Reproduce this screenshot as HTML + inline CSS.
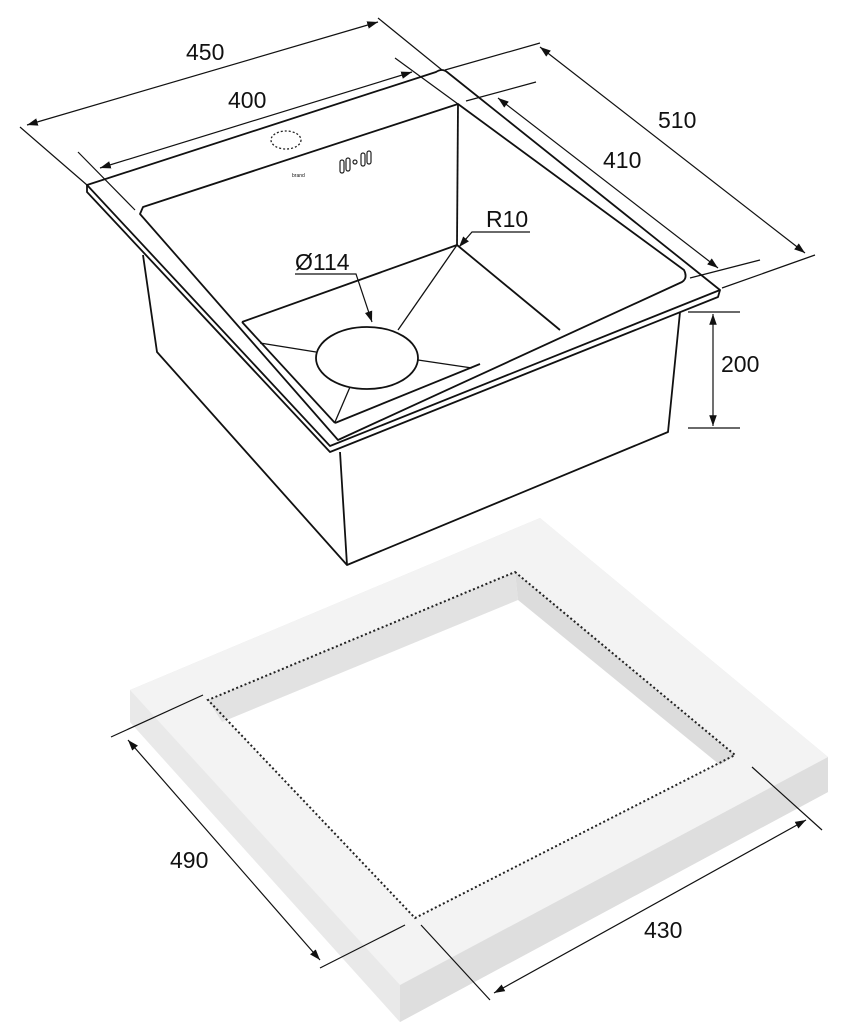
<!DOCTYPE html>
<html><head><meta charset="utf-8"><style>
html,body{margin:0;padding:0;background:#fff;}
svg{display:block;}
text{font-family:"Liberation Sans",sans-serif;font-size:23px;fill:#111;}
</style></head><body>
<svg width="843" height="1027" viewBox="0 0 843 1027" xmlns="http://www.w3.org/2000/svg">
<defs>
<marker id="a" viewBox="0 0 10 10" refX="10" refY="5" markerWidth="9" markerHeight="9" orient="auto-start-reverse"><path d="M0,1.5 L10,5 L0,8.5 Z" fill="#111"/></marker>
</defs>
<!-- countertop -->
<polygon points="540,518 828,757 828,792 400,1022 130,722 130,690" fill="#e4e4e4"/>
<polygon points="130,690 400,985 400,1022 130,722" fill="#e9e9e9"/>
<polygon points="400,985 828,757 828,792 400,1022" fill="#dedede"/>
<polygon points="540,518 828,757 400,985 130,690" fill="#f3f3f3"/>
<polygon points="515,572 735,755 415,918 208,700" fill="#ffffff"/>
<polygon points="208,700 515,572 518,600 222,722" fill="#e2e2e2"/>
<polygon points="515,572 735,755 720,765 518,600" fill="#dcdcdc"/>
<polygon points="515,572 735,755 415,918 208,700" fill="none" stroke="#222" stroke-width="2" stroke-dasharray="2,2.5"/>
<!-- 490 / 430 dims -->
<g stroke="#111" stroke-width="1.2" fill="none">
<line x1="111" y1="737" x2="203" y2="695"/>
<line x1="320" y1="968" x2="405" y2="925"/>
<line x1="128" y1="740" x2="320" y2="960" marker-start="url(#a)" marker-end="url(#a)"/>
<line x1="752" y1="767" x2="822" y2="830"/>
<line x1="421" y1="925" x2="490" y2="1000"/>
<line x1="806" y1="820" x2="494" y2="993" marker-start="url(#a)" marker-end="url(#a)"/>
</g>
<text x="170" y="868">490</text>
<text x="644" y="938">430</text>
<!-- sink body -->
<g stroke="#111" stroke-width="1.8" fill="none" stroke-linejoin="round">
<polyline points="143,255 157,352 347,565 668,432 680,312"/>
<line x1="340" y1="452" x2="347" y2="565"/>
<!-- flange -->
<path d="M87,185 L436,72 Q442,68 447,72 L720,290 L330,446 Z" fill="#fff"/>
<polyline points="87,185 87,192 330,452 718,297 720,290"/>
<!-- inner rim -->
<path d="M143,207 L458,104 L684,270 Q688,278 682,282 L338,440 L140,214 Z"/>
<line x1="458" y1="104" x2="457" y2="245"/>
<line x1="242" y1="322" x2="457" y2="245"/>
<line x1="457" y1="245" x2="560" y2="330"/>
<line x1="242" y1="322" x2="335" y2="423"/>
<line x1="335" y1="423" x2="480" y2="364"/>
<line x1="260" y1="343" x2="316" y2="352" stroke-width="1.3"/>
<line x1="418" y1="360" x2="472" y2="368" stroke-width="1.3"/>
<line x1="398" y1="330" x2="457" y2="245" stroke-width="1.3"/>
<line x1="350" y1="387" x2="335" y2="422" stroke-width="1.3"/>
<ellipse cx="367" cy="358" rx="51" ry="31" fill="#fff"/>
</g>
<ellipse cx="286" cy="140" rx="15" ry="9" fill="none" stroke="#222" stroke-width="1.3" stroke-dasharray="2,2"/>
<g stroke="#222" stroke-width="1.2" fill="none">
<rect x="340" y="160" width="4" height="13" rx="2"/><rect x="346" y="158" width="4" height="13" rx="2"/>
<circle cx="355" cy="162" r="2"/>
<rect x="361" y="153" width="4" height="13" rx="2"/><rect x="367" y="151" width="4" height="13" rx="2"/>
</g>
<text x="292" y="177" style="font-size:5px">brand</text>
<!-- leaders -->
<g stroke="#111" stroke-width="1.2" fill="none">
<polyline points="530,232 472,232 459,247" marker-end="url(#a)"/>
<polyline points="295,274 356,274 372,322" marker-end="url(#a)"/>
</g>
<text x="486" y="227">R10</text>
<text x="295" y="270">Ø114</text>
<!-- top dims -->
<g stroke="#111" stroke-width="1.2" fill="none">
<line x1="20" y1="127" x2="87" y2="185"/>
<line x1="378" y1="18" x2="442" y2="70"/>
<line x1="27" y1="125" x2="378" y2="22" marker-start="url(#a)" marker-end="url(#a)"/>
<line x1="78" y1="152" x2="135" y2="210"/>
<line x1="395" y1="58" x2="458" y2="104"/>
<line x1="100" y1="168" x2="412" y2="72" marker-start="url(#a)" marker-end="url(#a)"/>
<line x1="445" y1="70" x2="540" y2="43"/>
<line x1="722" y1="288" x2="815" y2="255"/>
<line x1="540" y1="47" x2="805" y2="253" marker-start="url(#a)" marker-end="url(#a)"/>
<line x1="466" y1="101" x2="536" y2="82"/>
<line x1="690" y1="278" x2="760" y2="260"/>
<line x1="498" y1="98" x2="718" y2="268" marker-start="url(#a)" marker-end="url(#a)"/>
<line x1="688" y1="312" x2="740" y2="312"/>
<line x1="688" y1="428" x2="740" y2="428"/>
<line x1="713" y1="314" x2="713" y2="426" marker-start="url(#a)" marker-end="url(#a)"/>
</g>
<text x="186" y="60">450</text>
<text x="228" y="108">400</text>
<text x="658" y="128">510</text>
<text x="603" y="168">410</text>
<text x="721" y="372">200</text>
</svg>
</body></html>
